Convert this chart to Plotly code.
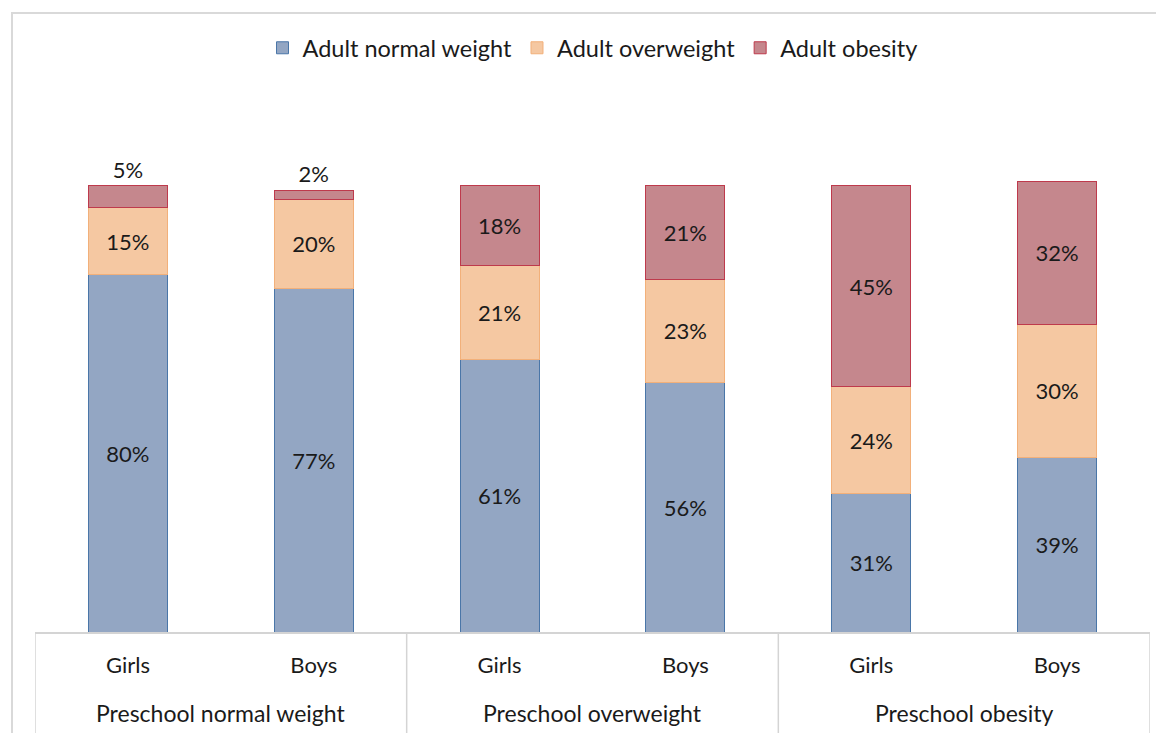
import plotly.graph_objects as go

groups = ["Preschool normal weight", "Preschool overweight", "Preschool obesity"]
sexes = ["Girls", "Boys", "Girls", "Boys", "Girls", "Boys"]
normal = [80, 77, 61, 56, 31, 39]
overweight = [15, 20, 21, 23, 24, 30]
obesity = [5, 2, 18, 21, 45, 32]

FONT = "Lato"
OFF = 8  # page body margin in the browser
W, H = 1164, 733
L, R, T, B = 35 - OFF, 22, 141 - OFF, 733 - (632 - OFF)

xs = list(range(len(sexes)))

fig = go.Figure()
series = [
    ("Adult normal weight", normal, "#93a6c3", "#4a76a8"),
    ("Adult overweight", overweight, "#f5c8a2", "#f2b07a"),
    ("Adult obesity", obesity, "#c5878d", "#be3a4c"),
]
for i, (name, vals, fill, line) in enumerate(series):
    if i == 2:
        pos = ["outside" if v < 8 else "inside" for v in vals]
    else:
        pos = "inside"
    fig.add_trace(go.Bar(
        name=name, x=xs, y=vals,
        marker=dict(color=fill, line=dict(color=line, width=1)),
        text=[f"{v}%" for v in vals], textposition=pos,
        insidetextanchor="middle", constraintext="none", cliponaxis=False,
        textfont=dict(family=FONT, size=22, color="#1a1a1a"),
        hoverinfo="skip",
    ))

plot_h = H - T - B
plot_w = W - L - R
px2py = lambda py: (H - B - (py - OFF)) / plot_h  # screen y -> paper y
px2px = lambda px: (px - OFF - L) / plot_w        # screen x -> paper x

annotations = []
n_per = len(sexes) // len(groups)
for gi, g in enumerate(groups):
    members = xs[gi * n_per:(gi + 1) * n_per]
    annotations.append(dict(
        x=sum(members) / len(members), xref="x", y=px2py(713), yref="paper",
        text=g, showarrow=False, yanchor="middle",
        font=dict(family=FONT, size=23, color="#1a1a1a")))

shapes = [dict(type="rect", xref="paper", yref="paper",
               x0=px2px(12), x1=1.2, y0=-1, y1=px2py(13),
               line=dict(color="#d9d9d9", width=2), layer="below")]
for gi in range(len(groups) + 1):
    xb = gi * n_per - 0.5
    shapes.append(dict(type="line", xref="x", yref="paper",
                       x0=xb, x1=xb, y0=0, y1=-1,
                       line=dict(color="#d4d4d4", width=1.5)))

fig.update_layout(
    width=W, height=H,
    margin=dict(l=L, r=R, t=T, b=B),
    barmode="stack", bargap=0.575,
    plot_bgcolor="white", paper_bgcolor="white",
    font=dict(family=FONT, size=22, color="#1a1a1a"),
    showlegend=True,
    legend=dict(orientation="h", x=0.5, xanchor="center",
                y=px2py(48), yanchor="middle",
                font=dict(family=FONT, size=23.5, color="#1a1a1a"),
                traceorder="normal", itemwidth=30),
    xaxis=dict(range=[-0.5, len(sexes) - 0.5], tickvals=xs, ticktext=sexes,
               showline=True, linecolor="#d4d4d4", linewidth=1.5,
               ticks="", showgrid=False, zeroline=False,
               ticklabelstandoff=13,
               tickfont=dict(family=FONT, size=22, color="#1a1a1a")),
    yaxis=dict(range=[0, 110], visible=False, showgrid=False),
    annotations=annotations,
    shapes=shapes,
)

fig.write_html("out.html")
